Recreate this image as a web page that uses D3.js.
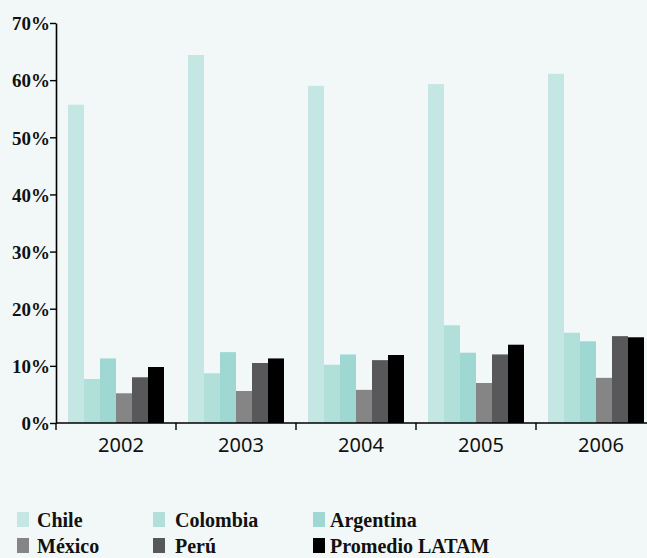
<!DOCTYPE html>
<html>
<head>
<meta charset="utf-8">
<script src="https://cdn.jsdelivr.net/npm/d3@7"></script>
<style>
  html, body { margin: 0; padding: 0; background: #f1f8f7; }
  svg { display: block; }
</style>
</head>
<body>
<svg id="chart" width="647" height="558"></svg>
<script>
// Share per country and year (%)
const years = ["2002", "2003", "2004", "2005", "2006"];
const series = ["Chile", "Colombia", "Argentina", "México", "Perú", "Promedio LATAM"];
const chile     = [55.7, 64.4, 59.0, 59.3, 61.1];
const colombia  = [7.7, 8.7, 10.2, 17.1, 15.8];
const argentina = [11.3, 12.4, 12.0, 12.3, 14.3];
const mexico    = [5.2, 5.6, 5.8, 7.0, 7.9];
const peru      = [8.0, 10.5, 11.0, 12.0, 15.2];
const latam     = [9.8, 11.3, 11.9, 13.7, 15.0];
const yTicks = [0, 10, 20, 30, 40, 50, 60, 70];

const values = [chile, colombia, argentina, mexico, peru, latam];
const colors = ["#c4e7e4", "#b1dfd9", "#9fd8d2", "#858585", "#58585a", "#000000"];

const svg = d3.select("#chart");
const plotLeft = 56, plotTop = 23, plotBottom = 423;

const x = d3.scaleBand().domain(years)
  .range([plotLeft, plotLeft + 600])
  .paddingInner(0.2).paddingOuter(0.1);
const xs = d3.scaleBand().domain(series).range([0, x.bandwidth()]);
const y = d3.scaleLinear().domain([0, 70]).range([plotBottom, plotTop]);

// Bars
const groups = svg.append("g").selectAll("g")
  .data(years).join("g")
  .attr("transform", d => `translate(${x(d)},0)`);

groups.selectAll("rect")
  .data((yr, i) => series.map((s, k) => ({ s, k, v: values[k][i] })))
  .join("rect")
  .attr("x", d => xs(d.s))
  .attr("width", xs.bandwidth())
  .attr("y", d => y(d.v))
  .attr("height", d => y(0) - y(d.v))
  .attr("fill", d => colors[d.k]);

// Y axis
const yAxis = svg.append("g")
  .attr("transform", `translate(${plotLeft},0)`)
  .call(d3.axisLeft(y).tickValues(yTicks).tickFormat(d => d + "%").tickSize(6).tickSizeOuter(0));
yAxis.select(".domain").attr("stroke", "#000").attr("stroke-width", 1.6);
yAxis.selectAll(".tick line").attr("stroke", "#000").attr("stroke-width", 1.4);
yAxis.selectAll(".tick text")
  .attr("x", -6)
  .attr("dy", "0.36em")
  .style("font-family", "'Liberation Serif', serif")
  .style("font-weight", "bold")
  .style("font-size", "19px")
  .attr("fill", "#111");

// X axis baseline and separators
const xAxis = svg.append("g");
xAxis.append("line")
  .attr("x1", plotLeft).attr("x2", 647)
  .attr("y1", y(0)).attr("y2", y(0))
  .attr("stroke", "#000").attr("stroke-width", 1.6);
const gap = (x.step() - x.bandwidth()) / 2;
xAxis.selectAll("line.sep")
  .data(years).join("line").attr("class", "sep")
  .attr("x1", d => x(d) - gap).attr("x2", d => x(d) - gap)
  .attr("y1", y(0)).attr("y2", y(0) + 7)
  .attr("stroke", "#000").attr("stroke-width", 1.4);
xAxis.selectAll("text")
  .data(years).join("text")
  .attr("x", d => x(d) + x.bandwidth() / 2 + 5)
  .attr("y", 452)
  .attr("text-anchor", "middle")
  .style("font-family", "'Noto Sans', sans-serif")
  .style("font-size", "20px")
  .attr("fill", "#111")
  .text(d => d);

// Legend
const legendCols = [17, 153, 313];
const legendText = [37, 175, 330];
const legendRows = [512, 538];
const legend = svg.append("g").selectAll("g")
  .data(series).join("g");
legend.append("rect")
  .attr("x", (d, i) => legendCols[i % 3])
  .attr("y", (d, i) => legendRows[Math.floor(i / 3)])
  .attr("width", 12).attr("height", 15)
  .attr("fill", (d, i) => colors[i]);
legend.append("text")
  .attr("x", (d, i) => legendText[i % 3])
  .attr("y", (d, i) => legendRows[Math.floor(i / 3)] + 15)
  .style("font-family", "'Liberation Serif', serif")
  .style("font-weight", "bold")
  .style("font-size", "20px")
  .attr("fill", "#111")
  .text(d => d);
</script>
</body>
</html>
